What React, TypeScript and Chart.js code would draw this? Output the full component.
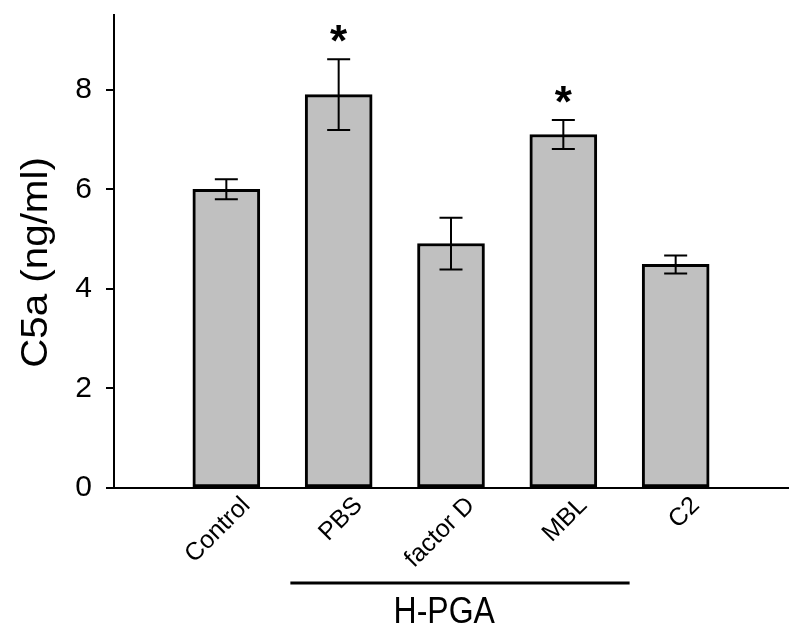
import React, { useEffect, useRef } from "react";
import { Chart, registerables } from "chart.js";

Chart.register(...registerables);

const categories = ["Control", "PBS", "factor D", "MBL", "C2"];
const positions = [1, 2, 3, 4, 5];
const means = [6.0, 7.9, 4.91, 7.1, 4.49];
const errors = [0.2, 0.71, 0.52, 0.29, 0.18];
const significant = [false, true, false, true, false];
const yTicks = [0, 2, 4, 6, 8];
const groupLabel = "H-PGA";
const yTitle = "C5a (ng/ml)";

const FONT = "'Liberation Sans', Arial, Helvetica, sans-serif";

const overlayPlugin = {
  id: "overlay",
  afterDatasetsDraw(chart: any) {
    const ctx = chart.ctx;
    const xs = chart.scales.x;
    const ys = chart.scales.y;
    ctx.save();
    ctx.strokeStyle = "#000";
    ctx.fillStyle = "#000";
    ctx.lineWidth = 2;
    positions.forEach((p, i) => {
      const x = xs.getPixelForValue(p);
      const top = ys.getPixelForValue(means[i] + errors[i]);
      const bot = ys.getPixelForValue(means[i] - errors[i]);
      const cap = 11.5;
      ctx.beginPath();
      ctx.moveTo(x, top);
      ctx.lineTo(x, bot);
      ctx.moveTo(x - cap, top);
      ctx.lineTo(x + cap, top);
      ctx.moveTo(x - cap, bot);
      ctx.lineTo(x + cap, bot);
      ctx.stroke();
      if (significant[i]) {
        ctx.font = `bold 44px ${FONT}`;
        ctx.textAlign = "center";
        ctx.textBaseline = "alphabetic";
        ctx.fillText("*", x, top - 3);
      }
    });
    // group bracket
    const x1 = xs.getPixelForValue(1.57);
    const x2 = xs.getPixelForValue(4.59);
    const yLine = ys.bottom + 95;
    ctx.lineWidth = 3;
    ctx.beginPath();
    ctx.moveTo(x1, yLine);
    ctx.lineTo(x2, yLine);
    ctx.stroke();
    ctx.save();
    ctx.translate(xs.getPixelForValue(2.94), yLine + 30);
    ctx.scale(1, 1.15);
    ctx.font = `32px ${FONT}`;
    ctx.textAlign = "center";
    ctx.textBaseline = "middle";
    ctx.fillText(groupLabel, 0, 0);
    ctx.restore();
    // y title
    ctx.save();
    ctx.translate(37, (ys.top + ys.bottom) / 2 + 11);
    ctx.rotate(-Math.PI / 2);
    ctx.scale(1.12, 1);
    ctx.font = `36px ${FONT}`;
    ctx.textAlign = "center";
    ctx.textBaseline = "middle";
    ctx.fillText(yTitle, 0, 0);
    ctx.restore();
    ctx.restore();
  },
};

export default function App() {
  const ref = useRef<HTMLCanvasElement>(null);
  useEffect(() => {
    document.body.style.margin = "0";
    const chart = new Chart(ref.current!, {
      type: "bar",
      data: {
        datasets: [
          {
            data: positions.map((p, i) => ({ x: p, y: means[i] })),
            backgroundColor: "#c0c0c0",
            borderColor: "#000",
            borderWidth: 3,
            borderSkipped: false,
            barThickness: 67,
          } as any,
        ],
      },
      options: {
        animation: false,
        responsive: false,
        layout: { padding: { top: 15, right: 12, left: 0, bottom: 0 } },
        plugins: { legend: { display: false }, tooltip: { enabled: false } },
        scales: {
          x: {
            type: "linear",
            min: 0,
            max: 6,
            offset: false,
            afterFit(scale: any) {
              scale.height = 153;
              scale.paddingLeft = 0;
              scale.paddingRight = 0;
            },
            afterBuildTicks(scale: any) {
              scale.ticks = positions.map((p) => ({ value: p }));
            },
            ticks: {
              autoSkip: false,
              maxRotation: 45,
              minRotation: 45,
              padding: 3,
              labelOffset: 20,
              color: "#000",
              font: { family: FONT, size: 25 },
              callback: (v: any) => {
                const i = positions.indexOf(Number(v));
                return i >= 0 ? categories[i] : "";
              },
            },
            grid: { display: false, drawTicks: false, offset: false },
            border: { display: true, color: "#000", width: 2 },
          },
          y: {
            min: 0,
            max: 9.5,
            afterFit(scale: any) {
              scale.width = 114;
              scale.paddingTop = 0;
              scale.paddingBottom = 0;
            },
            afterBuildTicks(scale: any) {
              scale.ticks = yTicks.map((v) => ({ value: v }));
            },
            ticks: {
              padding: 14,
              color: "#000",
              font: { family: FONT, size: 30 },
            },
            grid: {
              display: true,
              drawOnChartArea: false,
              drawTicks: true,
              tickLength: 8,
              color: "#000",
              lineWidth: 2,
            },
            border: { display: true, color: "#000", width: 2 },
          },
        },
      },
      plugins: [overlayPlugin],
    });
    return () => chart.destroy();
  }, []);
  return (
    <div style={{ position: "absolute", left: 0, top: 0, width: 800, height: 641 }}>
      <canvas ref={ref} width={800} height={641} style={{ width: 800, height: 641 }} />
    </div>
  );
}
